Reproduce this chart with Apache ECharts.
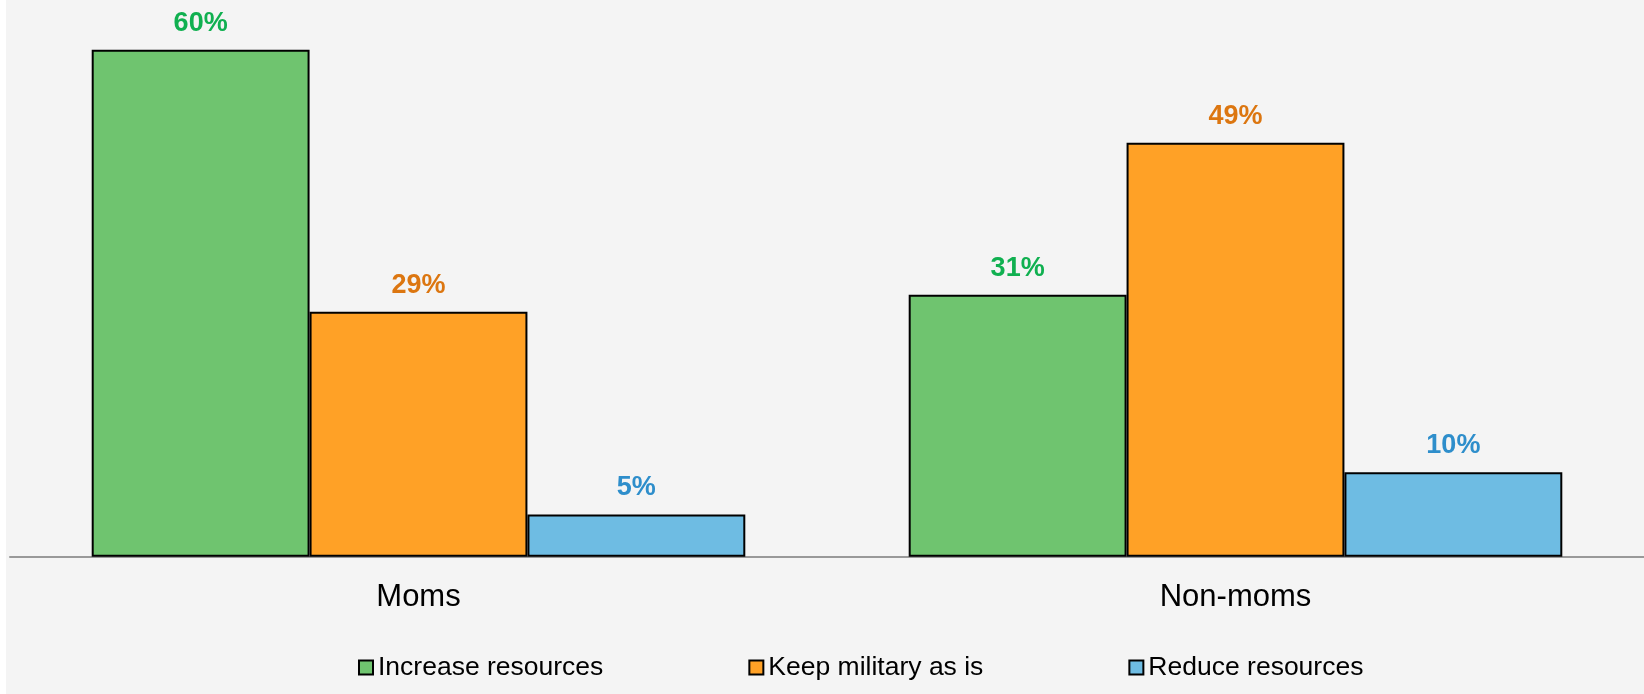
<!DOCTYPE html>
<html>
<head>
<meta charset="utf-8">
<script src="https://cdn.jsdelivr.net/npm/echarts@6/dist/echarts.min.js"></script>
<style>
html,body{margin:0;padding:0;background:#fff;}
#chart{width:1644px;height:694px;}
</style>
</head>
<body>
<div id="chart"></div>
<script>
const categories = ['Moms', 'Non-moms'];
const seriesNames = ['Increase resources', 'Keep military as is', 'Reduce resources'];
const increaseValues = [60, 31];
const keepValues = [29, 49];
const reduceValues = [5, 10];

const fillColors = ['#6FC46F', '#FFA126', '#6EBCE3'];
const labelColors = ['#10B050', '#DC7610', '#2E8ECB'];
const valueSets = [increaseValues, keepValues, reduceValues];

const chart = echarts.init(document.getElementById('chart'));
const font = '"Liberation Sans", Arial, sans-serif';

chart.setOption({
  backgroundColor: '#ffffff',
  animation: false,
  graphic: [{
    type: 'rect', left: 6, top: 0, z: -10, silent: true,
    shape: { width: 1638, height: 694 },
    style: { fill: '#f4f4f4' }
  }],
  grid: { left: 10, right: 0, top: 7.5, bottom: 137.3, containLabel: false },
  legend: {
    left: 353, top: 649,
    itemWidth: 14, itemHeight: 14, itemGap: 145,
    icon: 'rect',
    textStyle: { fontFamily: font, fontSize: 26.5, color: '#000' },
    data: seriesNames
  },
  xAxis: {
    type: 'category',
    data: categories,
    axisLine: { show: true, lineStyle: { color: '#999', width: 2 } },
    axisTick: { show: false },
    axisLabel: { color: '#000', fontFamily: font, fontSize: 31, margin: 25 }
  },
  yAxis: {
    type: 'value', min: 0, max: 65,
    show: false,
    splitLine: { show: false }
  },
  series: valueSets.map((vals, i) => ({
    name: seriesNames[i],
    type: 'bar',
    data: vals,
    barGap: '0%',
    barCategoryGap: '20%',
    itemStyle: { color: fillColors[i], borderColor: '#000', borderWidth: 2 },
    label: {
      show: true, position: 'top', distance: 13,
      formatter: '{c}%',
      color: labelColors[i], fontFamily: font, fontSize: 27, fontWeight: 'bold'
    }
  }))
});
</script>
</body>
</html>
